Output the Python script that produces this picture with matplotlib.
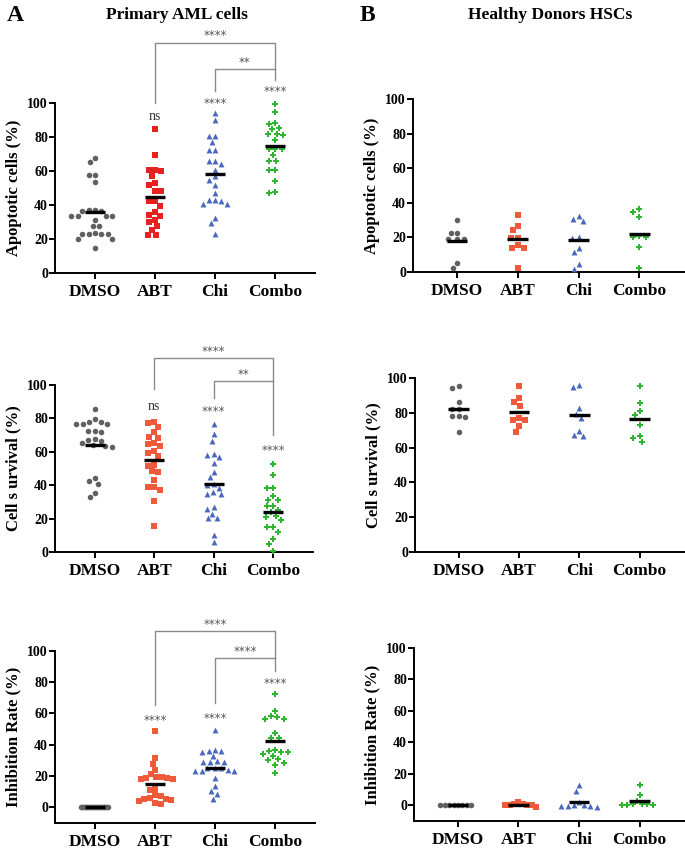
import numpy as np
import matplotlib
matplotlib.use('Agg')
import matplotlib.pyplot as plt

plt.rcParams['font.family'] = ['Liberation Serif', 'DejaVu Serif']

groups = ['DMSO', 'ABT', 'Chi', 'Combo']

# Primary AML cells - apoptosis
aml_apop_dmso = [67.6, 65.1, 57.5, 57.5, 53.5, 36.9, 36.5, 36.5, 36.9, 33.7, 33.7, 33.7, 33.7, 31.4,
                 27.8, 27.8, 23.5, 23.1, 23.1, 23.1, 23.1, 20.2, 20.2, 14.7]
aml_apop_abt = [84.7, 69.6, 60.4, 60.4, 59.8, 56.9, 52.9, 51.6, 48.0, 48.4, 42.2, 42.2, 39.6, 35.9,
                33.7, 34.3, 29.8, 31.4, 27.8, 25.5, 22.5, 22.5]
aml_apop_chi = [94.0, 90.0, 80.4, 80.4, 76.9, 72.5, 72.5, 65.7, 65.7, 64.3, 60.8, 56.9, 54.9, 52.0,
                47.0, 43.1, 43.1, 42.2, 40.8, 40.8, 32.4, 29.4, 22.9]
aml_apop_combo = [99.4, 95.0, 88.2, 87.8, 85.3, 84.7, 82.0, 81.8, 81.4, 78.0, 72.9, 72.9, 72.9, 69.2,
                  65.7, 65.7, 60.8, 60.8, 53.9, 47.6, 47.0]
aml_apop_med = [35.9, 44.5, 58.4, 74.5]

# Primary AML cells - survival
aml_surv_dmso = [85.5, 79.5, 78.1, 78.1, 76.5, 76.5, 76.5, 72.1, 72.5, 72.5, 67.7, 67.1, 66.5, 65.5,
                 63.7, 63.1, 64.0, 44.2, 42.8, 40.8, 35.3, 32.9]
aml_surv_abt = [77.1, 77.7, 74.7, 71.7, 69.1, 68.5, 64.7, 63.7, 65.1, 60.2, 59.2, 57.2, 51.6, 51.8,
                48.2, 47.6, 43.2, 39.2, 38.8, 37.3, 30.7, 15.3]
aml_surv_chi = [76.5, 70.5, 66.7, 58.2, 58.8, 56.8, 53.2, 47.8, 44.6, 40.2, 40.8, 38.2, 35.9, 34.7,
                34.9, 26.7, 25.7, 22.9, 20.3, 20.3, 10.0, 5.8]
aml_surv_combo = [52.6, 46.2, 38.6, 38.6, 33.7, 30.9, 31.3, 27.3, 27.3, 24.9, 23.7, 21.3, 20.9, 18.9,
                  14.9, 14.9, 12.0, 8.0, 5.0, 0.8]
aml_surv_med = [64.0, 55.2, 40.8, 23.9]

# Primary AML cells - inhibition
aml_inh_dmso = [0.0] * 22
aml_inh_abt = [48.5, 31.3, 27.5, 23.8, 19.5, 18.9, 18.0, 18.0, 18.9, 19.5, 21.2, 10.9, 12.0, 7.7,
               7.1, 6.0, 5.2, 4.1, 4.9, 5.6, 2.4, 2.8]
aml_inh_chi = [49.6, 36.7, 35.6, 36.3, 36.3, 32.8, 29.2, 29.2, 29.2, 29.8, 25.3, 24.9, 23.2, 23.8,
               23.2, 23.2, 25.3, 18.5, 13.7, 10.3, 8.4, 5.2]
aml_inh_combo = [72.5, 61.8, 57.7, 56.7, 56.7, 58.6, 47.4, 44.2, 44.2, 35.6, 36.3, 36.7, 35.6, 34.1,
                 32.8, 30.7, 30.3, 28.5, 27.0, 21.7]
aml_inh_med = [0.0, 15.2, 25.3, 42.1]

# Healthy donors HSCs
hsc_apop_dmso = [30.0, 22.8, 22.4, 19.0, 19.0, 19.0, 5.4, 2.3]
hsc_apop_abt = [32.9, 26.7, 24.2, 19.9, 19.9, 15.5, 14.1, 14.1, 2.3]
hsc_apop_chi = [30.6, 29.6, 32.5, 19.7, 20.3, 14.1, 11.6, 4.8, 1.9]
hsc_apop_combo = [34.8, 36.2, 31.9, 20.3, 20.3, 20.9, 14.5, 2.3]
hsc_apop_med = [17.8, 18.8, 18.6, 22.2]

hsc_surv_dmso = [95.2, 94.2, 86.2, 82.3, 82.3, 77.9, 77.3, 77.9, 69.2]
hsc_surv_abt = [95.6, 88.5, 86.0, 84.0, 76.0, 76.9, 76.0, 72.5, 69.2]
hsc_surv_chi = [94.8, 95.8, 82.5, 76.9, 79.4, 69.8, 66.9, 67.3]
hsc_surv_combo = [95.2, 85.6, 81.3, 78.5, 73.1, 66.9, 65.8, 63.5]
hsc_surv_med = [82.3, 80.6, 79.0, 76.3]

hsc_inh_dmso = [0.0] * 8
hsc_inh_abt = [1.9, 0.0, 0.0, -1.3, 0.0, 0.4, 1.0, 1.0]
hsc_inh_chi = [12.7, 9.3, 2.1, 0.0, -0.6, -1.0, -0.6, -0.6, 0.0]
hsc_inh_combo = [13.1, 6.8, 3.0, 0.8, 0.4, 0.4, 0.4, 0.8, 0.8]
hsc_inh_med = [0.0, 0.0, 1.9, 3.0]

ylabels = ['Apoptotic cells (%)', 'Cell s urvival (%)', 'Inhibition Rate (%)']

gray = '#606060'
blue = '#4a68bd'
green = '#2fb52f'
markers = ['o', 's', '^', 'P']
sizes = [16, 14, 18, 24]


def swarm(ax, vals, center, d=6.5, maxw=0.42):
    # simple beeswarm in pixel space, returns x positions in data units
    tr = ax.transData
    ypx = tr.transform([(center, v) for v in vals])[:, 1]
    pxcat = tr.transform((1, 0))[0] - tr.transform((0, 0))[0]
    order = np.argsort(vals)[::-1]
    placed = []
    offs = np.zeros(len(vals))
    for i in order:
        y = ypx[i]
        bad = []
        for (px, py) in placed:
            dy = abs(py - y)
            if dy < d:
                w = np.sqrt(d * d - dy * dy)
                bad.append((px - w, px + w))
        cands = [0.0] + [b[0] for b in bad] + [b[1] for b in bad]
        cands = sorted(cands, key=lambda c: (abs(c), c))
        for c in cands:
            if all(not (lo + 1e-6 < c < hi - 1e-6) for lo, hi in bad):
                offs[i] = c
                break
        placed.append((offs[i], y))
    lim = maxw * pxcat
    m = np.abs(offs).max()
    if m > lim:
        offs = offs * lim / m
    return center + offs / pxcat


def panel(ax, data, meds, colors, ylab, ylim, xlim, maxw):
    ax.set_xlim(*xlim)
    ax.set_ylim(*ylim)
    for k, vals in enumerate(data):
        xs = swarm(ax, vals, k, maxw=maxw[k])
        ax.scatter(xs, vals, s=sizes[k], marker=markers[k], color=colors[k],
                   linewidths=0, zorder=3, clip_on=False)
        ax.plot([k - 0.17, k + 0.17], [meds[k], meds[k]], color='black', lw=2.4,
                zorder=4, solid_capstyle='butt')
    for s in ['top', 'right']:
        ax.spines[s].set_visible(False)
    for s in ['left', 'bottom']:
        ax.spines[s].set_linewidth(1.4)
    ax.spines['left'].set_bounds(ylim[0], 100)
    ax.set_yticks([0, 20, 40, 60, 80, 100])
    ax.set_xticks(range(4))
    ax.set_xticklabels(groups, fontsize=12.5, fontweight='bold')
    ax.tick_params(axis='y', labelsize=10, width=1.4, length=4, pad=1)
    ax.tick_params(axis='x', width=1.4, length=4, pad=4)
    for t in ax.get_yticklabels():
        t.set_fontweight('bold')
    ax.set_ylabel(ylab, fontsize=12, fontweight='bold', labelpad=4)


def bracket(ax, x0, x1, y, l0, l1, label, ly):
    ax.plot([x0, x0, x1, x1], [l0, y, y, l1], color='#8a8a8a', lw=1.0, clip_on=False)
    star(ax, (x0 + x1) / 2, ly, label)


def star(ax, x, y, label):
    if label == 'ns':
        ax.text(x, y, label, ha='center', va='center', fontsize=10, color='#333333',
                clip_on=False)
    else:
        ax.text(x, y, label, ha='center', va='center', fontsize=8.5, color='#555555',
                family='DejaVu Sans', clip_on=False)


fig = plt.figure(figsize=(6.85, 8.5), dpi=100)

ax1 = fig.add_axes([0.0803, 0.6788, 0.3796, 0.2])
ax2 = fig.add_axes([0.0803, 0.3506, 0.3766, 0.1965])
ax3 = fig.add_axes([0.0803, 0.0318, 0.3796, 0.2024])
ax4 = fig.add_axes([0.6029, 0.68, 0.397, 0.2035])
ax5 = fig.add_axes([0.6058, 0.3506, 0.394, 0.2047])
ax6 = fig.add_axes([0.6044, 0.0341, 0.3956, 0.2035])

xa = (-0.667, 3.667)
xb = (-0.725, 3.75)
wa = [0.42, 0.42, 0.42, 0.42]

panel(ax1, [aml_apop_dmso, aml_apop_abt, aml_apop_chi, aml_apop_combo], aml_apop_med,
      [gray, '#e5221f', blue, green], ylabels[0], (0, 100), xa, wa)
panel(ax2, [aml_surv_dmso, aml_surv_abt, aml_surv_chi, aml_surv_combo], aml_surv_med,
      [gray, '#ef5a3a', blue, green], ylabels[1], (0, 100), xa, wa)
panel(ax3, [aml_inh_dmso, aml_inh_abt, aml_inh_chi, aml_inh_combo], aml_inh_med,
      [gray, '#ef5a3a', blue, green], ylabels[2], (-10, 100), xa, [0.24, 0.3, 0.42, 0.42])
panel(ax4, [hsc_apop_dmso, hsc_apop_abt, hsc_apop_chi, hsc_apop_combo], hsc_apop_med,
      [gray, '#ef5a3a', blue, green], ylabels[0], (0, 100), xb, wa)
panel(ax5, [hsc_surv_dmso, hsc_surv_abt, hsc_surv_chi, hsc_surv_combo], hsc_surv_med,
      [gray, '#ef5a3a', blue, green], ylabels[1], (0, 100), xb, wa)
panel(ax6, [hsc_inh_dmso, hsc_inh_abt, hsc_inh_chi, hsc_inh_combo], hsc_inh_med,
      [gray, '#ef5a3a', blue, green], ylabels[2], (-10, 100), xb, [0.29] * 4)

# significance marks
bracket(ax1, 1, 3, 135.3, 100, 113.5, '****', 139.5)
bracket(ax1, 2, 3, 120, 107, 120, '**', 124)
star(ax1, 1, 92, 'ns')
star(ax1, 2, 100, '****')
star(ax1, 3, 106.6, '****')

bracket(ax2, 1, 3, 116, 97.6, 70, '****', 120)
bracket(ax2, 2, 3, 102.4, 92.4, 102.4, '**', 106)
star(ax2, 1, 87, 'ns')
star(ax2, 2, 84, '****')
star(ax2, 3, 60.5, '****')

bracket(ax3, 1, 3, 112.6, 65.5, 87, '****', 117)
bracket(ax3, 2, 3, 95.3, 66.6, 95.3, '****', 99.5)
star(ax3, 1, 55.3, '****')
star(ax3, 2, 56.5, '****')
star(ax3, 3, 79, '****')

fig.text(0.022, 0.982, 'A', fontsize=17, fontweight='bold', ha='center', va='center')
fig.text(0.536, 0.982, 'B', fontsize=17, fontweight='bold', ha='center', va='center')
fig.text(0.258, 0.982, 'Primary AML cells', fontsize=12.5, fontweight='bold', ha='center',
         va='center')
fig.text(0.803, 0.982, 'Healthy Donors HSCs', fontsize=12.5, fontweight='bold', ha='center',
         va='center')

plt.savefig('out.png', dpi=100)
